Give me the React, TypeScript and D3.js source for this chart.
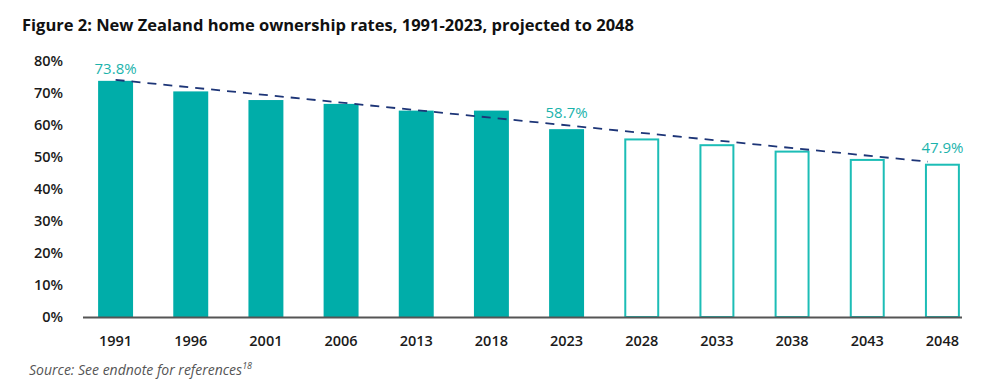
import { useEffect, useRef } from 'react'
import * as d3 from 'd3'

// chart data
const years = ['1991', '1996', '2001', '2006', '2013', '2018', '2023', '2028', '2033', '2038', '2043', '2048']
const rates = [73.8, 70.5, 67.8, 66.6, 64.5, 64.5, 58.7, 55.8, 54.0, 52.0, 49.4, 47.9]
const projected = [false, false, false, false, false, false, false, true, true, true, true, true]
const labelled = ['1991', '2023', '2048']
const yTicks = [0, 10, 20, 30, 40, 50, 60, 70, 80]

const title = 'Figure 2: New Zealand home ownership rates, 1991-2023, projected to 2048'

export default function App() {
  const ref = useRef<SVGSVGElement | null>(null)

  useEffect(() => {
    if (!ref.current) return
    const svg = d3.select(ref.current)
    svg.selectAll('*').remove()

    const width = 1000
    const height = 389
    const teal = '#00ADA9'
    const tealLight = '#1CBDB6'
    const font = "'Open Sans', 'Noto Sans', sans-serif"

    const x = d3.scaleBand<string>()
      .domain(years)
      .range([78, 980])
      .paddingInner(0.535)
      .paddingOuter(0.2675)

    const y = d3.scaleLinear().domain([0, 80]).range([317, 61])

    // title
    svg.append('text')
      .attr('x', 22)
      .attr('y', 31)
      .attr('font-family', font)
      .attr('font-weight', 700)
      .attr('font-size', 16.5)
      .attr('fill', '#111')
      .text(title)

    // y tick labels
    svg.append('g')
      .selectAll('text')
      .data(yTicks)
      .enter()
      .append('text')
      .attr('x', 63)
      .attr('y', d => y(d))
      .attr('dy', '0.35em')
      .attr('text-anchor', 'end')
      .attr('font-family', font)
      .attr('font-weight', 600)
      .attr('font-size', 14.5)
      .attr('fill', '#1a1a1a')
      .text(d => `${d}%`)

    const data = years.map((yr, i) => ({ yr, v: rates[i], proj: projected[i] }))

    // bars
    svg.append('g')
      .selectAll('rect')
      .data(data)
      .enter()
      .append('rect')
      .attr('x', d => d.proj ? x(d.yr)! + 1 : x(d.yr)!)
      .attr('y', d => d.proj ? y(d.v) + 1 : y(d.v))
      .attr('width', d => d.proj ? x.bandwidth() - 2 : x.bandwidth())
      .attr('height', d => d.proj ? y(0) - y(d.v) - 1 : y(0) - y(d.v))
      .attr('fill', d => d.proj ? '#fff' : teal)
      .attr('stroke', d => d.proj ? tealLight : 'none')
      .attr('stroke-width', 2)

    // x axis line
    svg.append('line')
      .attr('x1', 83)
      .attr('x2', 962)
      .attr('y1', y(0) + 0.5)
      .attr('y2', y(0) + 0.5)
      .attr('stroke', '#555')
      .attr('stroke-width', 2)

    // x labels
    svg.append('g')
      .selectAll('text')
      .data(years)
      .enter()
      .append('text')
      .attr('x', d => x(d)! + x.bandwidth() / 2)
      .attr('y', 341)
      .attr('dy', '0.35em')
      .attr('text-anchor', 'middle')
      .attr('font-family', font)
      .attr('font-weight', 600)
      .attr('font-size', 14.5)
      .attr('fill', '#1a1a1a')
      .text(d => d)

    // trend line
    const first = data[0]
    const last = data[data.length - 1]
    svg.append('line')
      .attr('x1', x(first.yr)! + x.bandwidth() / 2)
      .attr('y1', y(first.v) - 1)
      .attr('x2', x(last.yr)! + 3)
      .attr('y2', y(last.v) - 2)
      .attr('stroke', '#1D3577')
      .attr('stroke-width', 1.8)
      .attr('stroke-dasharray', '9,7')

    // value labels
    svg.append('g')
      .selectAll('text')
      .data(data.filter(d => labelled.includes(d.yr)))
      .enter()
      .append('text')
      .attr('x', d => x(d.yr)! + x.bandwidth() / 2)
      .attr('y', d => y(d.v) - (d.yr === '1991' ? 7 : 11))
      .attr('text-anchor', 'middle')
      .attr('font-family', font)
      .attr('font-size', 15)
      .attr('fill', '#1BB3AC')
      .text(d => `${d.v.toFixed(1)}%`)

    // source
    const src = svg.append('text')
      .attr('x', 29)
      .attr('y', 375)
      .attr('font-family', font)
      .attr('font-style', 'italic')
      .attr('font-size', 14)
      .attr('fill', '#555')
    src.append('tspan').text('Source: See endnote for references')
    src.append('tspan')
      .attr('dy', -6)
      .attr('font-size', 9)
      .text('18')

    svg.attr('viewBox', `0 0 ${width} ${height}`)
  }, [])

  return (
    <svg
      ref={ref}
      width={1000}
      height={389}
      style={{ position: 'absolute', left: 0, top: 0, background: '#fff' }}
    />
  )
}
